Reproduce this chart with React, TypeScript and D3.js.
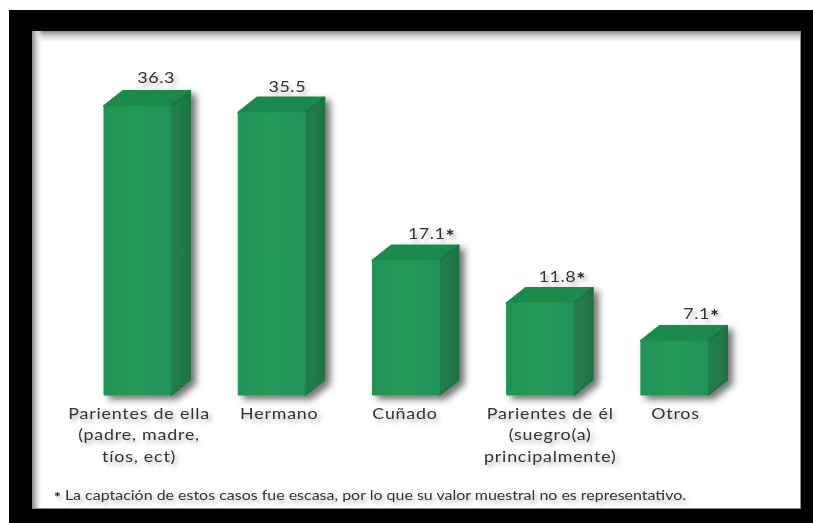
import React from "react";
import * as d3 from "d3";

const width = 813;
const height = 523;

// data
const categories = ["ella", "hermano", "cunado", "el", "otros"];
const values = [36.3, 35.5, 17.1, 11.8, 7.1];
const valueLabels = ["36.3", "35.5", "17.1", "11.8", "7.1"];
const starred = [false, false, true, true, true];
const categoryLines = [
  ["Parientes de ella", "(padre, madre,", "tíos, ect)"],
  ["Hermano"],
  ["Cuñado"],
  ["Parientes de él", "(suegro(a)", "principalmente)"],
  ["Otros"],
];
const footnote = " La captación de estos casos fue escasa, por lo que su valor muestral no es representativo.";

// layout
const labelNudge = [1.5, 7.5, -1, 10, 1];
const valueNudge = [-0.5, -3.5, 6.5, 3, 8];
const valueGap = [8, 5, 6, 6, 7];
const baseY = 395;
const depthX = 19;
const depthY = 15;
const font = "Lato, sans-serif";

const x = d3.scaleBand<string>().domain(categories).range([104, 708]).paddingInner(0.5).paddingOuter(0);
const y = d3.scaleLinear().domain([0, 36.3]).range([398, 106]);

const line = d3.line();

const App = () => {
  const bw = x.bandwidth();
  return (
    <svg
      width={width}
      height={height}
      style={{ position: "absolute", left: 0, top: 0, display: "block", background: "#fff" }}
    >
      <defs>
        <linearGradient id="front" x1="0" y1="0" x2="1" y2="0">
          <stop offset="0%" stopColor="#1f9455" />
          <stop offset="50%" stopColor="#239a59" />
          <stop offset="100%" stopColor="#209356" />
        </linearGradient>
        <linearGradient id="side" x1="0" y1="0" x2="1" y2="0">
          <stop offset="0%" stopColor="#237f4a" />
          <stop offset="100%" stopColor="#1f7541" />
        </linearGradient>
        <linearGradient id="panelTop" x1="0" y1="0" x2="0" y2="1">
          <stop offset="0%" stopColor="#8c8c8c" />
          <stop offset="45%" stopColor="#d4d4d4" />
          <stop offset="100%" stopColor="#fff" />
        </linearGradient>
        <linearGradient id="panelLeft" x1="0" y1="0" x2="1" y2="0">
          <stop offset="0%" stopColor="#8c8c8c" />
          <stop offset="45%" stopColor="#d4d4d4" />
          <stop offset="100%" stopColor="#fff" stopOpacity={0} />
        </linearGradient>
        <filter id="barShadow" x="-40%" y="-10%" width="190%" height="125%">
          <feGaussianBlur in="SourceGraphic" stdDeviation="0.6" result="soft" />
          <feDropShadow in="soft" dx="5" dy="4" stdDeviation="3.5" floodColor="#000" floodOpacity="0.55" />
        </filter>
        <filter id="textShadow" x="-15%" y="-50%" width="130%" height="240%">
          <feGaussianBlur in="SourceGraphic" stdDeviation="0.4" result="soft" />
          <feDropShadow in="soft" dx="3" dy="3" stdDeviation="2.2" floodColor="#000" floodOpacity="0.3" />
        </filter>
      </defs>

      <rect x={9} y={10} width={width - 9} height={height - 10} fill="#000" />
      <rect x={32} y={31} width={769} height={478} fill="#fff" />
      <rect x={32} y={31} width={769} height={11} fill="url(#panelTop)" />
      <rect x={32} y={31} width={11} height={478} fill="url(#panelLeft)" />
      <rect x={800} y={31} width={1} height={478} fill="#8a8a8a" />
      <rect x={32} y={508} width={769} height={1} fill="#8a8a8a" />

      {categories.map((c, i) => {
        const x0 = x(c)!;
        const x1 = x0 + bw;
        const yt = y(values[i]);
        const front = line([[x0, yt], [x1, yt], [x1, baseY], [x0, baseY]])! + "Z";
        const side = line([[x1, yt], [x1 + depthX, yt - depthY], [x1 + depthX, baseY - depthY], [x1, baseY]])! + "Z";
        const top = line([[x0, yt], [x0 + depthX, yt - depthY], [x1 + depthX, yt - depthY], [x1, yt]])! + "Z";
        return (
          <g key={c} filter="url(#barShadow)">
            <path d={top} fill="#1e8a4e" stroke="#1e8a4e" strokeLinejoin="round" strokeWidth={2} />
            <path d={side} fill="url(#side)" stroke="#1f7541" strokeLinejoin="round" strokeWidth={2} />
            <path d={front} fill="url(#front)" stroke="#1f9455" strokeLinejoin="round" strokeWidth={1} />
          </g>
        );
      })}

      {categories.map((c, i) => (
        <g key={c} filter="url(#textShadow)">
          <text
            transform={`translate(${x(c)! + bw / 2 + depthX + valueNudge[i]},${y(values[i]) - depthY - valueGap[i]}) scale(1.12,1)`}
            textAnchor="middle"
            fontFamily={font}
            fontSize={16}
            letterSpacing={0.5}
            fill="#333"
          >
            {valueLabels[i]}
            {starred[i] && <tspan dy={4} fontWeight="bold" fontSize={19} fill="#222">*</tspan>}
          </text>
        </g>
      ))}

      {categories.map((c, i) => (
        <g key={c} filter="url(#textShadow)">
          {categoryLines[i].map((l, j) => (
            <text
              key={j}
              transform={`translate(${x(c)! + bw / 2 + labelNudge[i]},${418.5 + j * 21.5}) scale(1.15,1)`}
              textAnchor="middle"
              fontFamily={font}
              fontSize={15.5}
              letterSpacing={0.7}
              fill="#333"
            >
              {l}
            </text>
          ))}
        </g>
      ))}

      <g filter="url(#textShadow)">
        <text x={54} y={500} fontFamily={font} fontSize={13.5} fill="#333" textLength={632} lengthAdjust="spacingAndGlyphs">
          <tspan dy={2} fontWeight="bold" fill="#111">*</tspan>
          <tspan dy={-2}>{footnote}</tspan>
        </text>
      </g>
    </svg>
  );
};

export default App;
